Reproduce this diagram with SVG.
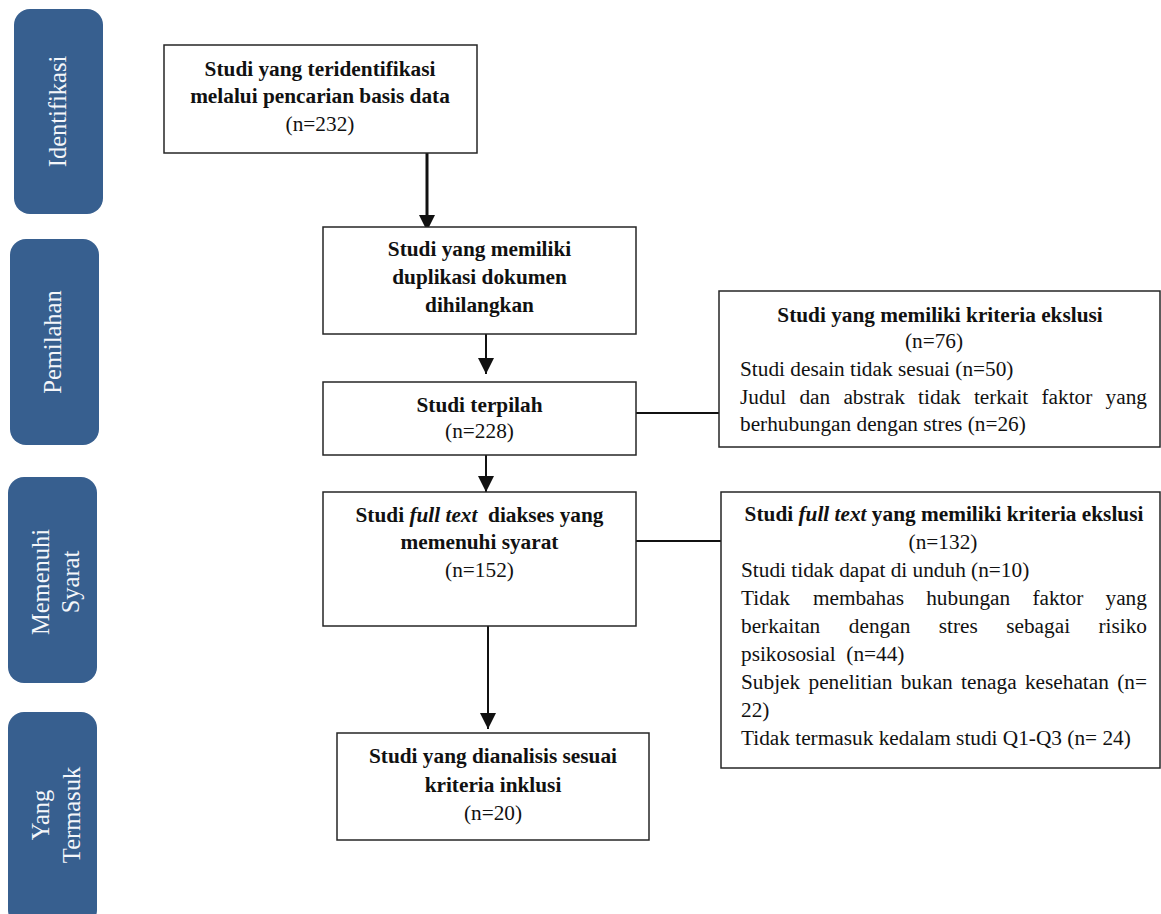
<svg xmlns="http://www.w3.org/2000/svg" width="1161" height="914" viewBox="0 0 1161 914">
  <defs>
    <style>
      .phase { fill: #375F8F; }
      .phase-t { font-family: "Liberation Serif", "Times New Roman", serif; font-size: 24.5px; fill: #F4F6FA; text-anchor: middle; }
      .box { fill: #FFFFFF; stroke: #262626; stroke-width: 1.5; }
      .t { font-family: "Liberation Serif", "Times New Roman", serif; font-size: 21.3px; fill: #111111; }
      .b { font-weight: bold; }
      .c { text-anchor: middle; }
      .conn { stroke: #111111; stroke-width: 2; fill: none; }
      .shadow { stroke: #9A9A9A; stroke-width: 3; fill: none; opacity: 0.55; }
    </style>
    <filter id="blur" x="-20%" y="-200%" width="140%" height="500%">
      <feGaussianBlur stdDeviation="2"/>
    </filter>
    <marker id="arr" viewBox="0 0 10 10" refX="10" refY="5" markerWidth="8" markerHeight="8" markerUnits="strokeWidth" orient="auto">
      <path d="M0,0 L10,5 L0,10 Z" fill="#111111"/>
    </marker>
    <marker id="arr2" viewBox="0 0 10 10" refX="10" refY="5" markerWidth="5.5" markerHeight="5.5" markerUnits="strokeWidth" orient="auto">
      <path d="M0,0 L10,5 L0,10 Z" fill="#111111"/>
    </marker>
  </defs>

  <rect width="1161" height="914" fill="#FFFFFF"/>

  <!-- Phase labels -->
  <g id="phase-identifikasi">
    <rect class="phase" x="14" y="9" width="89" height="205" rx="16"/>
    <text class="phase-t" transform="translate(58.5,111.5) rotate(-90)" x="0" y="7">Identifikasi</text>
  </g>
  <g id="phase-pemilahan">
    <rect class="phase" x="10" y="239" width="89" height="206" rx="16"/>
    <text class="phase-t" transform="translate(54.5,342) rotate(-90)" x="0" y="6">Pemilahan</text>
  </g>
  <g id="phase-memenuhi">
    <rect class="phase" x="8" y="477" width="89" height="206" rx="16"/>
    <text class="phase-t" transform="translate(52.5,582) rotate(-90)" x="0" y="-4">Memenuhi</text>
    <text class="phase-t" transform="translate(52.5,582) rotate(-90)" x="0" y="26">Syarat</text>
  </g>
  <g id="phase-termasuk">
    <rect class="phase" x="8" y="712" width="89" height="214" rx="16"/>
    <text class="phase-t" transform="translate(52.5,815) rotate(-90)" x="0" y="-4">Yang</text>
    <text class="phase-t" transform="translate(52.5,815) rotate(-90)" x="0" y="27">Termasuk</text>
  </g>

  <!-- Connectors -->
  <g id="connectors">
    <line class="shadow" x1="636" y1="417" x2="719" y2="417" filter="url(#blur)"/>
    <line class="shadow" x1="636" y1="545" x2="721" y2="545" filter="url(#blur)"/>
    <line class="conn" style="stroke-width:3" x1="427" y1="153" x2="427" y2="231" marker-end="url(#arr2)"/>
    <line class="conn" x1="486" y1="334" x2="486" y2="374" marker-end="url(#arr)"/>
    <line class="conn" x1="486" y1="455" x2="486" y2="492" marker-end="url(#arr)"/>
    <line class="conn" x1="488" y1="626" x2="488" y2="729" marker-end="url(#arr)"/>
    <line class="conn" x1="636" y1="413" x2="719" y2="413"/>
    <line class="conn" x1="636" y1="541" x2="721" y2="541"/>
  </g>

  <!-- Main flow boxes -->
  <g id="box-identified">
    <rect class="box" x="164" y="45" width="313" height="108"/>
    <text class="t b c" x="320" y="76">Studi yang teridentifikasi</text>
    <text class="t b c" x="320" y="103">melalui pencarian basis data</text>
    <text class="t c" x="320" y="131">(n=232)</text>
  </g>
  <g id="box-duplicates">
    <rect class="box" x="323" y="227" width="313" height="107"/>
    <text class="t b c" x="479.5" y="256">Studi yang memiliki</text>
    <text class="t b c" x="479.5" y="284">duplikasi dokumen</text>
    <text class="t b c" x="479.5" y="312">dihilangkan</text>
  </g>
  <g id="box-screened">
    <rect class="box" x="323" y="382" width="313" height="73"/>
    <text class="t b c" x="479.5" y="412">Studi terpilah</text>
    <text class="t c" x="479.5" y="438">(n=228)</text>
  </g>
  <g id="box-fulltext">
    <rect class="box" x="323" y="492" width="313" height="134"/>
    <text class="t b c" x="479.5" y="522" xml:space="preserve">Studi <tspan font-style="italic">full text</tspan>  diakses yang</text>
    <text class="t b c" x="479.5" y="549">memenuhi syarat</text>
    <text class="t c" x="479.5" y="577">(n=152)</text>
  </g>
  <g id="box-included">
    <rect class="box" x="337" y="733" width="312" height="107"/>
    <text class="t b c" x="493" y="763">Studi yang dianalisis sesuai</text>
    <text class="t b c" x="493" y="792">kriteria inklusi</text>
    <text class="t c" x="493" y="820">(n=20)</text>
  </g>

  <!-- Exclusion boxes -->
  <g id="box-excluded-screening">
    <rect class="box" x="719" y="291" width="441" height="156"/>
    <text class="t b c" x="940" y="322">Studi yang memiliki kriteria ekslusi</text>
    <text class="t c" x="934" y="348">(n=76)</text>
    <text class="t" x="740" y="376">Studi desain tidak sesuai (n=50)</text>
    <text class="t" y="404"><tspan x="740">Judul</tspan><tspan x="799.4">dan</tspan><tspan x="843.4">abstrak</tspan><tspan x="918.1">tidak</tspan><tspan x="973.9">terkait</tspan><tspan x="1041.5">faktor</tspan><tspan x="1105.6">yang</tspan></text>
    <text class="t" x="740" y="431">berhubungan dengan stres (n=26)</text>
  </g>
  <g id="box-excluded-fulltext">
    <rect class="box" x="721" y="492" width="439" height="276"/>
    <text class="t b c" x="944" y="521">Studi <tspan font-style="italic">full text</tspan> yang memiliki kriteria ekslusi</text>
    <text class="t c" x="943" y="549">(n=132)</text>
    <text class="t" x="741" y="577">Studi tidak dapat di unduh (n=10)</text>
    <text class="t" y="605"><tspan x="741">Tidak</tspan><tspan x="812.9">membahas</tspan><tspan x="926.2">hubungan</tspan><tspan x="1032.4">faktor</tspan><tspan x="1105.5">yang</tspan></text>
    <text class="t" y="633"><tspan x="741">berkaitan</tspan><tspan x="848.8">dengan</tspan><tspan x="938.7">stres</tspan><tspan x="1006.2">sebagai</tspan><tspan x="1098.5">risiko</tspan></text>
    <text class="t" x="741" y="661" xml:space="preserve">psikososial  (n=44)</text>
    <text class="t" y="689"><tspan x="741">Subjek</tspan><tspan x="808.5">penelitian</tspan><tspan x="900.7">bukan</tspan><tspan x="961.1">tenaga</tspan><tspan x="1024.9">kesehatan</tspan><tspan x="1117.2">(n=</tspan></text>
    <text class="t" x="741" y="717">22)</text>
    <text class="t" x="741" y="745">Tidak termasuk kedalam studi Q1-Q3 (n= 24)</text>
  </g>
</svg>
